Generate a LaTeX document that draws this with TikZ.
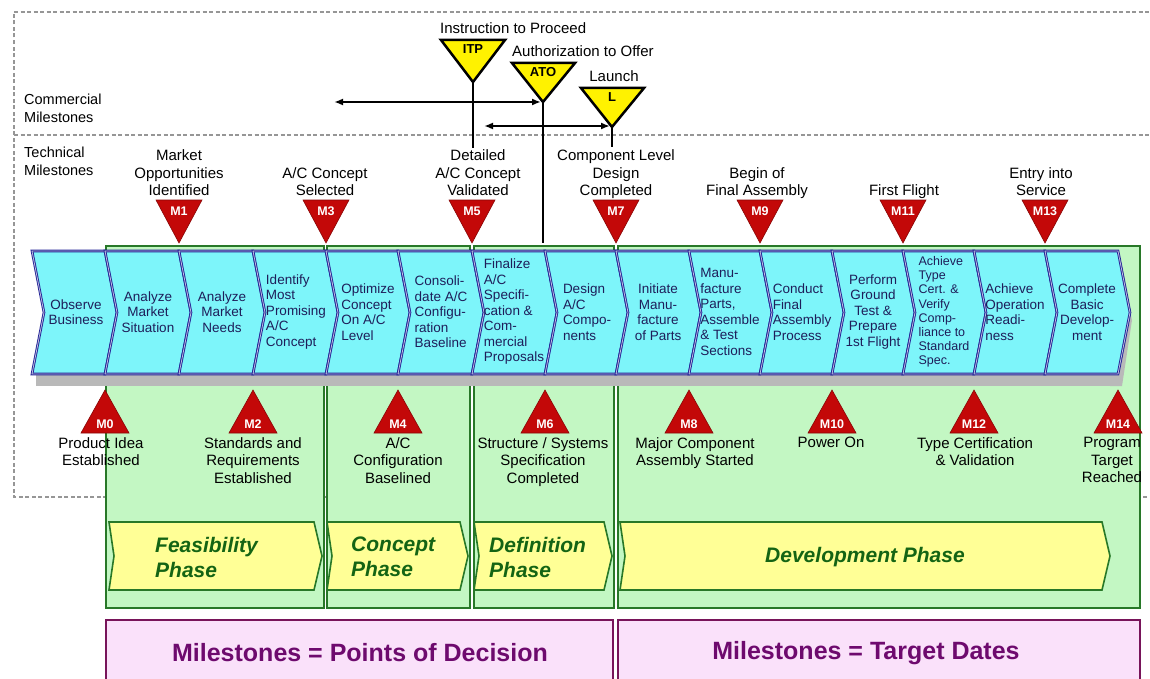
\documentclass[tikz,border=0pt]{standalone}
\usepackage{fontspec}
\setmainfont{Liberation Sans}
\usetikzlibrary{arrows.meta}
\definecolor{chevfill}{RGB}{125,245,250}
\definecolor{chevline}{RGB}{35,35,150}
\definecolor{chevtext}{RGB}{30,30,90}
\definecolor{greenfill}{RGB}{195,247,195}
\definecolor{greenline}{RGB}{40,120,40}
\definecolor{phasefill}{RGB}{255,255,150}
\definecolor{phasetext}{RGB}{20,100,20}
\definecolor{pinkfill}{RGB}{250,225,250}
\definecolor{pinkline}{RGB}{120,20,90}
\definecolor{pinktext}{RGB}{110,10,110}
\definecolor{msred}{RGB}{195,8,8}
\definecolor{dashgray}{RGB}{150,150,150}
\definecolor{shadowgray}{RGB}{185,185,185}
\begin{document}
\begin{tikzpicture}[x=1pt,y=-1pt,
  dashline/.style={draw=dashgray,line width=1.5pt,dash pattern=on 4pt off 2.5pt},
  grnbox/.style={fill=greenfill,draw=greenline,line width=1.6pt},
  pinkbox/.style={fill=pinkfill,draw=pinkline,line width=1.8pt},
  phasebox/.style={fill=phasefill,draw=greenline,line width=1.6pt},
  phasetxt/.style={font=\fontsize{21}{25}\selectfont\bfseries\itshape,text=phasetext,align=left,inner sep=0pt},
  pinktxt/.style={font=\fontsize{25}{30}\selectfont\bfseries,text=pinktext,inner sep=0pt},
  chevshape/.style={fill=chevfill,draw=chevline,line width=0.9pt,double=chevline!30!white,double distance=0.8pt,line join=miter},
  chevshadow/.style={fill=shadowgray},
  chevtxt/.style={font=\fontsize{13.5}{15.5}\selectfont,text=chevtext,inner sep=0pt,align=center},
  chevtxtl/.style={chevtxt,align=left},
  toplbl/.style={font=\fontsize{15}{17.5}\selectfont,align=center,inner sep=0pt,anchor=south,text depth=3pt},
  botlbl/.style={font=\fontsize{15}{17.5}\selectfont,align=center,inner sep=0pt,anchor=north},
  sidelbl/.style={font=\fontsize{14.5}{18}\selectfont,align=left,inner sep=0pt,anchor=north west},
  mlbl/.style={font=\fontsize{12.5}{12.5}\selectfont\bfseries,text=white,inner sep=0pt},
  redtri/.style={fill=msred,draw=msred!70!black,line width=0.6pt},
  yeltri/.style={fill=yellow,draw=black,line width=2.5pt,line join=miter},
  ylbl/.style={font=\fontsize{13}{13}\selectfont\bfseries,inner sep=0pt},
  comlbl/.style={font=\fontsize{15}{17}\selectfont,inner sep=0pt},
  vline/.style={draw=black,line width=2pt},
  biarrow/.style={{Latex[length=9pt,width=7pt]}-{Latex[length=9pt,width=7pt]},line width=2pt}
]
\useasboundingbox (0,0) rectangle (1150,679);

% dashed frame
\draw[dashline] (14,12) -- (1160,12);
\draw[dashline] (1160,497) -- (14,497) -- (14,12);
\draw[dashline] (14,135) -- (1160,135);

% side labels
\node[sidelbl] (comm) at (24,94) {Commercial\\Milestones};
\node[sidelbl] (tech) at (24,147) {Technical\\Milestones};

% green phase columns
\draw[grnbox] (106,246) rectangle (324,608);
\draw[grnbox] (327,246) rectangle (470,608);
\draw[grnbox] (474,246) rectangle (614,608);
\draw[grnbox] (618,246) rectangle (1140,608);

% pink boxes
\draw[pinkbox] (106,620) rectangle (613,700);
\draw[pinkbox] (618,620) rectangle (1140,700);
\node[pinktxt] (pd) at (360,653) {Milestones = Points of Decision};
\node[pinktxt] (td) at (866,653) {Milestones = Target Dates};

% phase chevrons
\foreach \a/\b in {109/314, 327/460, 474/604, 620/1102}{
  \draw[phasebox] (\a,522) -- (\b,522) -- (\b+8,556) -- (\b,590) -- (\a,590) -- (\a+5,556) -- cycle;
}
\node[phasetxt,anchor=west] (ph1) at (155,557) {Feasibility\\Phase};
\node[phasetxt,anchor=west] (ph2) at (351,557) {Concept\\Phase};
\node[phasetxt,anchor=west] (ph3) at (489,557) {Definition\\Phase};
\node[phasetxt] (ph4) at (865,557) {Development Phase};

% process chevrons
\fill[chevshadow] (36,370) rectangle (1122,386);
\fill[chevshadow] (1118,258) -- (1132,320) -- (1122,386) -- (1110,386) -- cycle;
\foreach \a/\b in {32/105,105/179,179/253,253/326,326/398,398/472,472/545,545/616,616/689,689/760,760/832,832/903,903/974,974/1045,1045/1118}{
  \draw[chevshape] (\a,251) -- (\b,251) -- (\b+12,312.5) -- (\b,374) -- (\a,374) -- (\a+12,312.5) -- cycle;
}
\node[chevtxt] (c1) at (76,312) {Observe\\Business};
\node[chevtxt] (c2) at (148,312) {Analyze\\Market\\Situation};
\node[chevtxt] (c3) at (222,312) {Analyze\\Market\\Needs};
\node[chevtxtl] (c4) at (296,312) {Identify\\Most\\Promising\\A/C\\Concept};
\node[chevtxtl] (c5) at (368,312) {Optimize\\Concept\\On A/C\\Level};
\node[chevtxtl] (c6) at (441,312) {Consoli-\\date A/C\\Configu-\\ration\\Baseline};
\node[chevtxtl] (c7) at (514,312) {Finalize\\A/C\\Specifi-\\cation \&\\Com-\\mercial\\Proposals};
\node[chevtxtl] (c8) at (587,312) {Design\\A/C\\Compo-\\nents};
\node[chevtxt] (c9) at (658,312) {Initiate\\Manu-\\facture\\of Parts};
\node[chevtxtl] (c10) at (730,312) {Manu-\\facture\\Parts,\\Assemble\\\& Test\\Sections};
\node[chevtxtl] (c11) at (802,312) {Conduct\\Final\\Assembly\\Process};
\node[chevtxt] (c12) at (873,312) {Perform\\Ground\\Test \&\\Prepare\\1st Flight};
\node[chevtxtl,font=\fontsize{12.5}{14.2}\selectfont] (c13) at (944,312) {Achieve\\Type\\Cert. \&\\Verify\\Comp-\\liance to\\Standard\\Spec.};
\node[chevtxtl] (c14) at (1015,312) {Achieve\\Operation\\Readi-\\ness};
\node[chevtxt] (c15) at (1087,312) {Complete\\Basic\\Develop-\\ment};

% commercial milestone lines and arrows
\coordinate (itpapex) at (473,82);
\coordinate (itpend) at (473,148);
\coordinate (atoapex) at (543,102);
\coordinate (atoend) at (543,243);
\coordinate (lapex) at (612,127);
\coordinate (lend) at (612,147);
\draw[vline] (itpapex) -- (itpend);
\draw[vline] (atoapex) -- (atoend);
\draw[vline] (lapex) -- (lend);
\coordinate (a1l) at (334,102);
\coordinate (a1r) at (541,102);
\coordinate (a2l) at (484,126);
\coordinate (a2r) at (610,126);
\draw[biarrow] (a1l) -- (a1r);
\draw[biarrow] (a2l) -- (a2r);

% yellow commercial milestones
\draw[yeltri] (441,40) -- (505,40) -- (itpapex) -- cycle;
\node[ylbl] (itp) at (473,49) {ITP};
\draw[yeltri] (512,63) -- (575,63) -- (atoapex) -- cycle;
\node[ylbl] (ato) at (543,72) {ATO};
\draw[yeltri] (581,88) -- (644,88) -- (lapex) -- cycle;
\node[ylbl] (lch) at (612,97) {L};
\node[comlbl,anchor=west] (itpt) at (440,28) {Instruction to Proceed};
\node[comlbl,anchor=west] (atot) at (512,51) {Authorization to Offer};
\node[comlbl] (lt) at (614,76) {Launch};

% red technical milestones
\foreach \k/\x in {1/179,3/326,5/472,7/616,9/760,11/903,13/1045}{
  \draw[redtri] (\x-23,200) -- (\x+23,200) -- (\x,243) -- cycle;
  \node[mlbl] (m\k) at (\x,211) {M\k};
}
\foreach \k/\x in {0/105,2/253,4/398,6/545,8/689,10/832,12/974,14/1118}{
  \draw[redtri] (\x,390) -- (\x+24,433) -- (\x-24,433) -- cycle;
  \node[mlbl] (m\k) at (\x,424) {M\k};
}

% technical milestone labels
\node[toplbl] (l1) at (179,199) {Market\\Opportunities\\Identified};
\node[toplbl] (l3) at (325,199) {A/C Concept\\Selected};
\node[toplbl] (l5) at (478,199) {Detailed\\A/C Concept\\Validated};
\node[toplbl] (l7) at (616,199) {Component Level\\Design\\Completed};
\node[toplbl] (l9) at (757,199) {Begin of\\Final Assembly};
\node[toplbl] (l11) at (904,199) {First Flight};
\node[toplbl] (l13) at (1041,199) {Entry into\\Service};

\node[botlbl] (l0) at (101,437) {Product Idea\\Established};
\node[botlbl] (l2) at (253,437) {Standards and\\Requirements\\Established};
\node[botlbl] (l4) at (398,437) {A/C\\Configuration\\Baselined};
\node[botlbl] (l6) at (543,437) {Structure / Systems\\Specification\\Completed};
\node[botlbl] (l8) at (695,437) {Major Component\\Assembly Started};
\node[botlbl] (l10) at (831,437) {Power On};
\node[botlbl] (l12) at (975,437) {Type Certification\\\& Validation};
\node[botlbl] (l14) at (1112,437) {Program\\Target\\Reached};
\end{tikzpicture}
\end{document}
